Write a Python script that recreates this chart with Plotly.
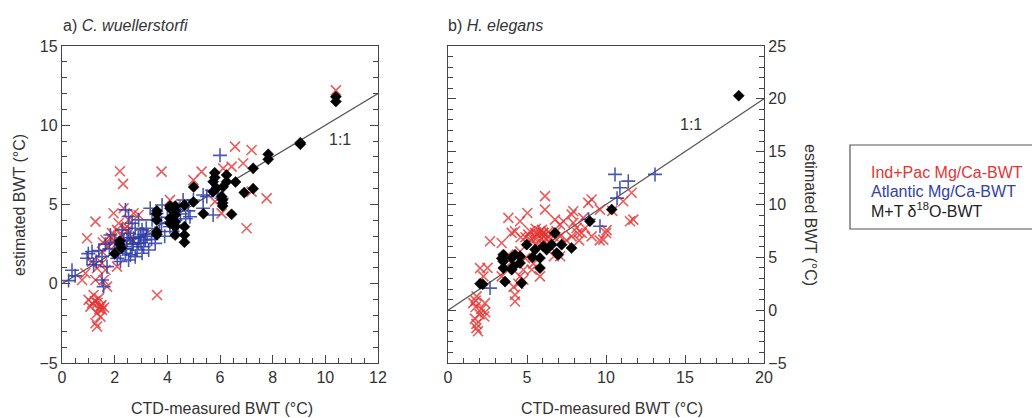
import plotly.graph_objects as go

# ---------------- Panel a: C. wuellerstorfi ----------------
a_red_x = [10.4, 6.57, 7.2, 6.88, 3.78, 5.3, 4.99, 6.12, 6.44, 7.77, 7.01, 7.2, 6.06, 5.81, 4.1,
           2.32, 1.96, 2.34, 2.72, 2.91, 2.53, 1.27, 0.95, 1.65, 1.9, 2.09, 2.2, 1.77, 2.03, 2.28,
           1.52, 1.14, 0.89, 1.27, 1.58, 1.65, 1.52, 1.33, 0.76, 1.71, 2.09, 1.01, 1.14, 1.39, 1.46,
           1.08, 1.33, 1.46, 1.27, 1.33, 1.52, 1.2, 3.61, 2.15, 2.47, 1.9, 2.2, 2.45, 2.6, 1.55,
           1.35, 1.42, 1.25, 1.5, 1.6, 2.0, 1.85, 4.6, 2.4]
a_red_y = [12.2, 8.65, 8.44, 7.6, 7.07, 7.07, 6.54, 7.28, 7.39, 5.39, 3.5, 5.81, 4.44, 5.18, 5.28,
           6.3, 4.45, 4.76, 4.45, 4.34, 4.03, 3.92, 2.87, 2.76, 3.19, 3.4, 2.55, 2.34, 2.45, 2.98,
           2.03, 1.4, 0.66, 0.24, 0.24, 0.87, 1.29, 0.98, 0.24, -0.18, 1.08, -1.02, -1.23, -0.92, -1.44,
           -1.44, -1.86, -2.07, -2.49, -2.7, -1.65, -0.71, -0.71, 3.82, 3.6, 2.87, 7.1, 3.3, 2.9, 2.6,
           -1.2, -1.6, -1.1, -1.35, -1.5, 2.7, 2.9, 5.0, 3.5]

a_blue_x = [0.25, 0.38, 0.5, 0.95, 1.14, 1.52, 1.71, 1.58, 1.52, 1.84, 2.28, 2.41, 2.53, 2.66, 2.78,
            2.91, 3.04, 3.23, 3.35, 3.42, 3.54, 3.8, 2.66, 2.78, 2.53, 2.91, 3.1, 2.41, 2.15, 2.22,
            3.29, 2.97, 3.16, 2.72, 2.53, 2.85, 2.47, 2.6, 3.04, 3.54, 6.0, 5.36, 4.99, 4.6, 4.86,
            5.74, 5.36, 6.06, 3.78, 3.59, 4.0, 4.1, 4.3, 4.5, 4.7, 4.8, 5.5, 5.7, 3.9, 4.2,
            4.4, 1.3, 1.4, 1.0, 1.2, 1.8, 2.0, 2.1, 2.35, 2.45, 2.7, 2.9, 3.0, 3.2, 3.4,
            3.7, 2.3, 2.6, 3.1, 1.65, 5.9, 4.45]
a_blue_y = [0.2, 0.85, 0.5, 1.61, 2.03, 1.71, 1.08, -0.18, 0.24, 3.08, 3.4, 4.66, 4.24, 3.82, 3.5,
            4.03, 3.4, 2.98, 4.76, 4.03, 3.19, 4.97, 2.34, 1.71, 1.5, 2.55, 2.34, 1.92, 2.03, 1.4,
            2.13, 2.98, 2.76, 2.87, 3.19, 2.13, 2.76, 1.82, 1.92, 2.55, 8.1, 5.6, 5.28, 5.28, 4.23,
            4.34, 4.76, 5.39, 3.81, 4.44, 4.2, 3.6, 4.0, 4.4, 4.1, 4.6, 5.5, 5.9, 3.0, 3.3,
            3.7, 1.4, 2.1, 1.9, 1.2, 2.2, 2.6, 1.6, 2.7, 2.2, 2.5, 2.9, 2.6, 3.5, 2.8,
            3.3, 2.2, 2.9, 3.1, 2.5, 5.7, 4.7]

a_blk_x = [10.4, 10.4, 9.05, 9.05, 7.83, 7.83, 7.26, 7.26, 6.92, 6.59, 6.44, 6.25, 6.25, 6.12, 6.06,
           6.1, 6.1, 6.1, 5.87, 5.8, 5.8, 5.74, 5.74, 5.37, 5.0, 4.99, 4.65, 4.65, 4.65, 4.65,
           4.3, 4.3, 4.3, 4.3, 4.3, 4.3, 4.1, 4.1, 4.1, 4.1, 3.6, 3.6, 3.6, 3.6, 3.6,
           2.2, 2.2, 2.25, 2.0]
a_blk_y = [11.8, 11.5, 8.9, 8.8, 8.17, 7.85, 7.28, 6.0, 5.75, 6.42, 4.38, 6.86, 6.44, 6.12, 5.5,
           5.3, 5.1, 4.9, 6.02, 7.0, 6.7, 6.44, 5.81, 4.42, 6.1, 5.16, 4.97, 3.6, 3.07, 2.62,
           4.9, 4.6, 4.34, 3.9, 3.6, 3.07, 4.9, 4.76, 4.13, 3.81, 4.6, 4.4, 4.02, 3.28, 3.1,
           2.7, 2.5, 2.25, 1.9]

# ---------------- Panel b: H. elegans ----------------
b_red_x = [6.14, 6.14, 3.82, 4.56, 5.02, 2.66, 3.4, 4.03, 4.24, 5.08, 5.19, 5.51, 5.82, 5.61, 6.03,
           6.24, 6.67, 6.77, 4.77, 5.3, 5.82, 4.77, 4.24, 4.24, 2.03, 2.24, 1.81, 2.34, 1.6, 3.71,
           3.82, 4.56, 4.88, 4.24, 3.4, 4.56, 11.62, 11.09, 8.88, 9.09, 10.04, 11.73, 11.52, 9.83, 9.09,
           8.46, 8.67, 7.82, 7.93, 7.93, 7.3, 7.09, 6.87, 7.82, 8.14, 8.56, 9.62, 6.03, 6.35, 6.45,
           7.09, 1.7, 1.8, 1.8, 1.9, 1.75, 2.0, 2.3, 2.1, 2.35, 5.4, 5.7, 5.95, 6.35, 5.25,
           5.55, 6.5, 5.9, 4.9, 10.0, 8.3, 7.5, 7.1, 6.7, 5.4, 4.45, 4.15, 2.5, 1.75, 8.2,
           9.6, 10.4, 5.65, 6.05, 4.6]
b_red_y = [10.79, 9.52, 8.73, 8.42, 9.2, 6.52, 6.36, 7.31, 7.47, 7.15, 7.47, 7.31, 7.47, 6.83, 7.31,
           6.67, 7.0, 8.57, 3.83, 3.83, 3.2, 2.88, 1.45, 0.82, 3.98, 3.2, 1.3, 0.66, 0.66, 4.14,
           5.25, 5.57, 4.93, 4.46, 3.2, 3.2, 11.11, 10.31, 10.16, 10.47, 7.57, 8.57, 8.42, 6.68, 6.99,
           7.31, 7.78, 9.05, 9.36, 8.26, 8.42, 8.1, 7.47, 6.99, 7.78, 8.73, 9.52, 7.31, 6.99, 6.04,
           6.99, -0.8, -1.3, -1.7, -2.0, 0.3, -0.4, -0.6, 0.1, -0.2, 6.9, 7.2, 7.6, 7.4, 6.6,
           7.7, 7.2, 6.8, 6.9, 7.3, 6.6, 6.6, 5.1, 5.1, 4.4, 2.5, 2.2, 4.0, 0.9, 7.3,
           6.6, 9.4, 6.2, 7.0, 6.9]

b_blue_x = [2.66, 10.57, 11.41, 13.1, 10.88, 10.7, 9.62, 8.9]
b_blue_y = [2.09, 12.85, 12.21, 12.85, 11.58, 10.6, 7.94, 8.6]

b_blk_x = [18.4, 10.36, 8.98, 7.82, 7.19, 6.98, 6.56, 6.77, 6.88, 6.24, 6.03, 5.82, 5.82, 5.51, 4.98,
           4.66, 4.56, 4.56, 4.24, 4.14, 4.03, 4.03, 3.61, 3.5, 3.5, 3.5, 3.4, 2.03, 2.2, 5.35]
b_blk_y = [20.3, 9.52, 8.42, 5.88, 6.2, 5.25, 6.2, 7.31, 5.41, 5.73, 6.04, 4.93, 3.98, 5.73, 6.2,
           2.56, 5.09, 4.46, 5.25, 4.14, 4.93, 3.83, 2.7, 5.25, 4.62, 3.98, 4.9, 2.5, 2.45, 5.0]

a_line = [0, 12]
b_line = [0, 20]

RED = "rgba(228,52,52,0.8)"
BLUE = "rgba(45,60,165,0.85)"
FONT = "Liberation Sans, Arial, sans-serif"
AX = "#444444"

fig = go.Figure()

def add_panel(xr, yr, xb, yb, xk, yk, line, xa, ya):
    fig.add_trace(go.Scatter(x=line, y=line, mode="lines", line=dict(color="#555555", width=1.2),
                             xaxis=xa, yaxis=ya, showlegend=False, hoverinfo="skip"))
    fig.add_trace(go.Scatter(x=xr, y=yr, mode="markers", xaxis=xa, yaxis=ya, showlegend=False,
                             marker=dict(symbol="x-thin-open", size=10, color=RED,
                                         line=dict(color=RED, width=1.6))))
    fig.add_trace(go.Scatter(x=xb, y=yb, mode="markers", xaxis=xa, yaxis=ya, showlegend=False,
                             marker=dict(symbol="cross-thin-open", size=10, color=BLUE,
                                         line=dict(color=BLUE, width=1.6))))
    fig.add_trace(go.Scatter(x=xk, y=yk, mode="markers", xaxis=xa, yaxis=ya, showlegend=False,
                             marker=dict(symbol="diamond", size=8.5, color="black",
                                         line=dict(color="black", width=0.5))))

add_panel(a_red_x, a_red_y, a_blue_x, a_blue_y, a_blk_x, a_blk_y, a_line, "x", "y")
add_panel(b_red_x, b_red_y, b_blue_x, b_blue_y, b_blk_x, b_blk_y, b_line, "x2", "y2")

W, H = 1032, 418
def dom_x(p0, p1):
    return [p0 / W, p1 / W]
def dom_y(top, bot):
    return [(H - bot) / H, (H - top) / H]

common = dict(showgrid=False, zeroline=False, showline=True, linecolor=AX, linewidth=1.3,
              ticks="inside", tickcolor=AX, tickwidth=1.3, ticklen=8, automargin=False,
              tickfont=dict(family=FONT, size=16, color="#333333"))
MINOR = dict(ticks="inside", ticklen=5, tickcolor=AX, tickwidth=1.1, showgrid=False)

fig.update_layout(
    width=W, height=H, margin=dict(l=0, r=0, t=0, b=0, pad=0, autoexpand=False),
    plot_bgcolor="white", paper_bgcolor="white",
    xaxis=dict(domain=dom_x(62, 378), range=[0, 12], dtick=2, anchor="y", mirror=True,
               minor=dict(dtick=0.5, **MINOR), **common),
    yaxis=dict(domain=dom_y(46, 363), range=[-5, 15], dtick=5, anchor="x", mirror="ticks",
               minor=dict(dtick=1, **MINOR), **common),
    xaxis2=dict(domain=dom_x(448, 764), range=[0, 20], dtick=5, anchor="y2", mirror=True,
                minor=dict(dtick=1, **MINOR), **common),
    yaxis2=dict(domain=dom_y(46, 363), range=[-5, 25], dtick=5, anchor="x2", side="right",
                mirror="ticks", minor=dict(dtick=1, **MINOR), **common),
)

ann = []
def txt(x, y, t, size=16, color="#333333", **kw):
    d = dict(x=x, y=y, xref="paper", yref="paper", text=t, showarrow=False,
             font=dict(family=FONT, size=size, color=color))
    d.update(kw)
    ann.append(d)

# panel titles
txt(61 / W, (H - 25) / H, "a) <i>C. wuellerstorfi</i>", size=16, xanchor="left", yanchor="middle")
txt(446 / W, (H - 25) / H, "b) <i>H. elegans</i>", size=16, xanchor="left", yanchor="middle")
# axis titles
txt(222 / W, (H - 408) / H, "CTD-measured BWT (°C)", xanchor="center", yanchor="middle")
txt(612 / W, (H - 408) / H, "CTD-measured BWT (°C)", xanchor="center", yanchor="middle")
txt(20 / W, (H - 205) / H, "estimated BWT (°C)", textangle=-90, xanchor="center", yanchor="middle")
txt(810 / W, (H - 215) / H, "estimated BWT (°C)", textangle=90, xanchor="center", yanchor="middle")
# 1:1 labels (data coordinates)
ann.append(dict(x=10.55, y=9.1, xref="x", yref="y", text="1:1", showarrow=False,
                font=dict(family=FONT, size=16, color="#333333")))
ann.append(dict(x=15.4, y=17.6, xref="x2", yref="y2", text="1:1", showarrow=False,
                font=dict(family=FONT, size=16, color="#333333")))
# legend
txt(869 / W, (H - 172) / H, "Ind+Pac Mg/Ca-BWT", color="rgb(228,52,52)", xanchor="left", yanchor="middle")
txt(869 / W, (H - 191) / H, "Atlantic Mg/Ca-BWT", color="rgb(50,65,165)", xanchor="left", yanchor="middle")
txt(869 / W, (H - 210) / H, "M+T δ<sup>18</sup>O-BWT", color="#222222", xanchor="left", yanchor="middle")
fig.update_layout(annotations=ann)

fig.add_shape(type="rect", xref="paper", yref="paper",
              x0=850 / W, x1=1045 / W, y0=(H - 229) / H, y1=(H - 145) / H,
              line=dict(color="#555555", width=1.2), fillcolor="rgba(0,0,0,0)")

fig.write_html("out.html", config={"displayModeBar": False},
               post_script="document.body.style.margin='0';document.body.style.overflow='hidden';")
